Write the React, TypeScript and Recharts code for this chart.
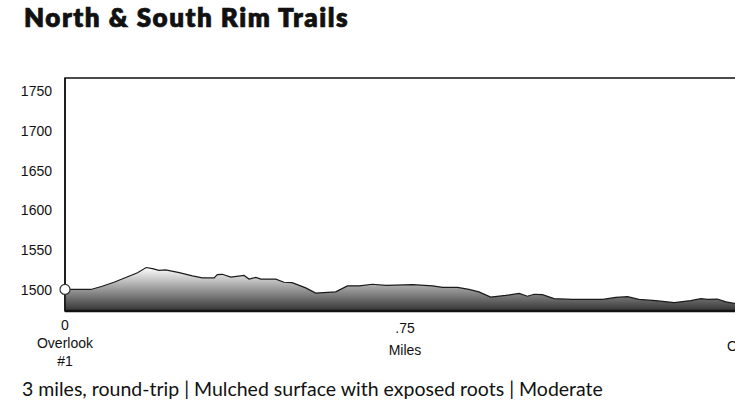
import { AreaChart, Area, XAxis, YAxis, ReferenceArea } from "recharts";

const miles = [
  0, 0.057, 0.082, 0.108, 0.134, 0.16, 0.179, 0.193, 0.207, 0.222, 0.252, 0.281, 0.303, 0.329,
  0.336, 0.347, 0.366, 0.395, 0.406, 0.421, 0.432, 0.465, 0.483, 0.501, 0.531, 0.553, 0.597,
  0.623, 0.649, 0.678, 0.708, 0.767, 0.811, 0.833, 0.866, 0.891, 0.913, 0.939, 0.972, 1.002,
  1.02, 1.035, 1.053, 1.079, 1.119, 1.186, 1.215, 1.241, 1.266, 1.303, 1.344, 1.38, 1.403,
  1.417, 1.439, 1.458, 1.476, 1.5,
];
const elevation = [
  1501, 1501, 1505, 1510, 1516, 1522, 1528.5, 1527, 1525, 1525.5, 1522, 1518, 1515.5, 1515.5,
  1519.5, 1520, 1516.5, 1518.5, 1514, 1516, 1514, 1514, 1510, 1509.5, 1503, 1496.5, 1498,
  1505.5, 1505.5, 1507.5, 1506, 1507, 1505.5, 1503.5, 1503.5, 1501, 1498, 1491.5, 1493.5, 1496,
  1492.5, 1495, 1494.5, 1489.5, 1488.5, 1488.5, 1491, 1492, 1488.5, 1487, 1484.5, 1487, 1489.5,
  1488.5, 1489, 1485.5, 1483.5, 1483,
];
const elevationTicks = [1500, 1550, 1600, 1650, 1700, 1750];
const mileTicks = [0, 0.75, 1.5];
const mileTickLabels = [["0", "Overlook", "#1"], [".75", "Miles"], ["1.5", "Overlook", "#2"]];

const title = "North & South Rim Trails";
const subtitle = "3 miles, round-trip | Mulched surface with exposed roots | Moderate";

const data = miles.map((m, i) => ({ mile: m, elev: elevation[i] }));

const xDomain: [number, number] = [0, 1.5];
const yDomain: [number, number] = [1474, 1766];

// baseline offsets (px below the axis line) for each tick's lines
const lineOffsets = [
  [19, 37, 55],
  [22, 44],
  [22, 40, 58],
];

const MileTick = (props: any) => {
  const { x, y, index } = props;
  const lines = mileTickLabels[index] || [];
  return (
    <g>
      {lines.map((t, i) => (
        <text
          key={i}
          x={x + (index === 2 ? 10 : 0)}
          y={y + lineOffsets[index][i]}
          textAnchor="middle"
          fontSize={14}
          fontFamily="'Liberation Sans', Arial, sans-serif"
          fill="#111"
        >
          {t}
        </text>
      ))}
    </g>
  );
};

const StartDot = (props: any) => {
  const { cx, cy, index } = props;
  if (index !== 0) return <g key={index} />;
  return <circle key={index} cx={cx} cy={cy} r={5} fill="#fff" stroke="#333" strokeWidth={1.2} />;
};

export default function App() {
  return (
    <div
      style={{
        position: "fixed",
        left: 0,
        top: 0,
        width: 735,
        height: 406,
        overflow: "hidden",
        background: "#fff",
      }}
    >
      <div
        style={{
          position: "absolute",
          left: 24,
          top: 4,
          fontFamily: "Lato, sans-serif",
          fontWeight: 800,
          fontSize: 26,
          lineHeight: "26px",
          letterSpacing: 1.5,
          WebkitTextStroke: "0.7px #111",
          color: "#111",
          whiteSpace: "nowrap",
        }}
      >
        {title}
      </div>
      <div style={{ position: "absolute", left: 0, top: 0 }}>
        <AreaChart
          width={800}
          height={406}
          data={data}
          margin={{ top: 78, right: 55, bottom: 35, left: 0 }}
        >
          <defs>
            <linearGradient id="elevFill" x1="0" y1="0" x2="0" y2="1">
              <stop offset="0%" stopColor="#ffffff" />
              <stop offset="100%" stopColor="#333333" />
            </linearGradient>
          </defs>
          <XAxis
            dataKey="mile"
            type="number"
            domain={xDomain}
            ticks={mileTicks}
            tickLine={false}
            tickSize={0}
            tickMargin={0}
            height={60}
            axisLine={{ stroke: "#111", strokeWidth: 2.5 }}
            tick={<MileTick />}
            interval={0}
          />
          <YAxis
            domain={yDomain}
            ticks={elevationTicks}
            width={65}
            tickLine={false}
            tickSize={0}
            tickMargin={13}
            axisLine={{ stroke: "#111", strokeWidth: 1.5 }}
            tick={{ fontSize: 14, fill: "#111", fontFamily: "'Liberation Sans', Arial, sans-serif" }}
            allowDataOverflow
          />
          <ReferenceArea
            x1={xDomain[0]}
            x2={xDomain[1]}
            y1={yDomain[0]}
            y2={yDomain[1]}
            fill="none"
            stroke="#111"
            strokeWidth={1.5}
            ifOverflow="visible"
          />
          <Area
            type="linear"
            dataKey="elev"
            stroke="#1a1a1a"
            strokeWidth={1.2}
            fill="url(#elevFill)"
            fillOpacity={1}
            dot={<StartDot />}
            activeDot={false}
            isAnimationActive={false}
          />
        </AreaChart>
      </div>
      <div
        style={{
          position: "absolute",
          left: 22,
          top: 379,
          fontFamily: "Lato, sans-serif",
          fontSize: 19.5,
          lineHeight: "19.5px",
          color: "#111",
          whiteSpace: "nowrap",
        }}
      >
        {subtitle}
      </div>
    </div>
  );
}
